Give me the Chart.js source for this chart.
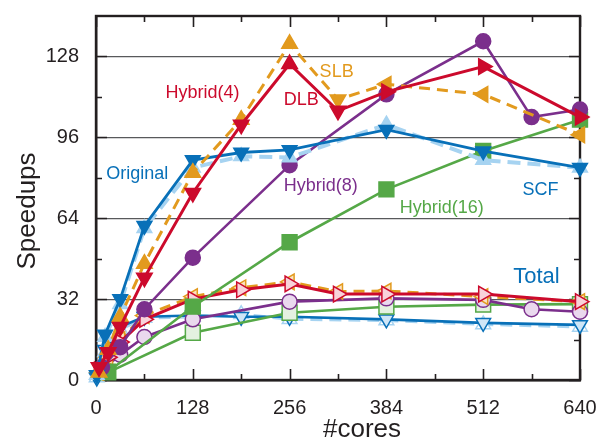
<!DOCTYPE html>
<html>
<head>
<meta charset="utf-8">
<script src="https://cdn.jsdelivr.net/npm/chart.js@4.4.1/dist/chart.umd.min.js"></script>
<style>
  html, body { margin: 0; padding: 0; background: #ffffff; }
  #wrap { width: 601px; height: 441px; position: relative; }
</style>
</head>
<body>
<div id="wrap"><canvas id="c" width="601" height="441"></canvas></div>
<script>
// ---- axis ticks ----
const xTicks = [0, 128, 256, 384, 512, 640];
const xMinorTicks = [64, 192, 320, 448, 576];
const yTicks = [0, 32, 64, 96, 128];
const yMinorTicks = [16, 48, 80, 112];

// ---- Original (flat MPI) ----
const origCores = [1, 12, 32, 64, 128, 192, 256, 384, 512, 640];
const origSCF = [2, 18, 32, 61, 87, 90, 91, 99, 90.5, 84];
const origSCFb = [2, 17, 30, 60, 84, 88.5, 88, 101, 87, 84];
const origTotal = [1, 12, 21, 25, 25.5, 25, 25, 24, 22.6, 21.8];
const origTotalb = [1, 11, 20, 24.5, 25, 26, 24, 23.5, 22, 21];

// ---- Hybrid(4): SLB and DLB ----
const h4Cores = [4, 16, 32, 64, 128, 192, 256, 320, 384, 512, 640];
const slbSCF = [3, 12, 25, 46, 82, 103, 133, 111, 117, 113, 97];
const dlbSCF = [5, 11, 21, 40.5, 74, 101, 125, 106.5, 114, 124, 104];
const slbTotal = [3, 9, 16, 25.5, 33, 36.5, 38.8, 35, 35.2, 33, 31];
const dlbTotal = [4, 9, 15, 24, 32, 35.7, 38, 34, 34, 34, 31];

// ---- Hybrid(8) ----
const h8Cores = [8, 32, 64, 128, 256, 384, 512, 576, 640];
const h8SCF = [5, 13, 28, 48.4, 85, 113, 134, 104, 107];
const h8Total = [4, 10, 17, 24, 31, 32.3, 31.7, 28, 27];

// ---- Hybrid(16) ----
const h16Cores = [16, 128, 256, 384, 512, 640];
const h16SCF = [3.3, 29, 54.5, 75.4, 90.6, 103];
const h16Total = [3, 18.7, 26.6, 29, 29.8, 30];

// ---- marker orientations (triangle rotation, degrees) ----
const slbRot = [0, 0, 0, 0, 0, 0, 0, 180, 270, 270, 270];
const dlbRot = [180, 180, 180, 180, 180, 180, 0, 180, 90, 90, 90];

// ---- in-plot text labels ----
const labelTexts = ['Original', 'Hybrid(4)', 'DLB', 'SLB', 'Hybrid(8)', 'Hybrid(16)', 'SCF', 'Total'];
const labelX = [13.4, 91.9, 248.4, 295.7, 248.4, 401.6, 564, 551.6];
const labelY = [81.5, 113.5, 110.6, 121.8, 76.6, 68, 75, 40.6];

const BLUE = '#0870b8', LBLUE = '#a6d3f1', ORANGE = '#e29a1e', RED = '#cc0a2c',
      PURPLE = '#7b2f8c', GREEN = '#55a847', INK = '#231f20';
const labelColors = [BLUE, RED, RED, ORANGE, PURPLE, GREEN, BLUE, BLUE];
const labelSizes = [18, 18, 18, 18, 18, 18, 18, 22];
const FONT = '"Liberation Sans", Arial, Helvetica, sans-serif';

function pts(xs, ys) { return xs.map((x, i) => ({ x: x, y: ys[i] })); }

function ds(o) {
  return Object.assign({
    type: 'line', fill: false, tension: 0, clip: false, borderWidth: 2.6,
    pointBorderWidth: 1.5, pointHoverRadius: 0
  }, o);
}

const datasets = [
  // Total (bottom group)
  ds({ label: 'Original Total b', data: pts(origCores, origTotalb), borderColor: LBLUE, borderDash: [12, 7], borderWidth: 3,
       pointStyle: 'triangle', pointRadius: 8.5, pointBackgroundColor: '#ffffff', pointBorderColor: LBLUE, order: 20 }),
  ds({ label: 'Original Total', data: pts(origCores, origTotal), borderColor: BLUE,
       pointStyle: 'triangle', pointRotation: 180, pointRadius: 8.5, pointBackgroundColor: '#cfe6f7', pointBorderColor: BLUE, order: 19 }),
  ds({ label: 'Hybrid(16) Total', data: pts(h16Cores, h16Total), borderColor: GREEN,
       pointStyle: 'rect', pointRadius: 10.5, pointBackgroundColor: '#e4f1e0', pointBorderColor: GREEN, order: 18 }),
  ds({ label: 'Hybrid(8) Total', data: pts(h8Cores, h8Total), borderColor: PURPLE,
       pointStyle: 'circle', pointRadius: 7.5, pointBackgroundColor: '#ead9ee', pointBorderColor: PURPLE, order: 17 }),
  ds({ label: 'SLB Total', data: pts(h4Cores, slbTotal), borderColor: ORANGE, borderDash: [11, 7], borderWidth: 3,
       pointStyle: 'triangle', pointRotation: 270, pointRadius: 9, pointBackgroundColor: '#fbe3c0', pointBorderColor: ORANGE, order: 16 }),
  ds({ label: 'DLB Total', data: pts(h4Cores, dlbTotal), borderColor: RED, borderWidth: 3,
       pointStyle: 'triangle', pointRotation: 90, pointRadius: 9, pointBackgroundColor: '#f8d2da', pointBorderColor: RED, order: 15 }),
  // SCF (upper group)
  ds({ label: 'Hybrid(16) SCF', data: pts(h16Cores, h16SCF), borderColor: GREEN,
       pointStyle: 'rect', pointRadius: 10.5, pointBackgroundColor: GREEN, pointBorderColor: GREEN, order: 9 }),
  ds({ label: 'Hybrid(8) SCF', data: pts(h8Cores, h8SCF), borderColor: PURPLE,
       pointStyle: 'circle', pointRadius: 7.5, pointBackgroundColor: PURPLE, pointBorderColor: PURPLE, order: 8 }),
  ds({ label: 'Original SCF b', data: pts(origCores, origSCFb), borderColor: LBLUE, borderDash: [13, 7], borderWidth: 4,
       pointStyle: 'triangle', pointRadius: 8.5, pointBackgroundColor: LBLUE, pointBorderColor: LBLUE, order: 7 }),
  ds({ label: 'Original SCF', data: pts(origCores, origSCF), borderColor: BLUE, borderWidth: 2.8,
       pointStyle: 'triangle', pointRotation: 180, pointRadius: 8.5, pointBackgroundColor: BLUE, pointBorderColor: BLUE, order: 6 }),
  ds({ label: 'SLB SCF', data: pts(h4Cores, slbSCF), borderColor: ORANGE, borderDash: [11, 7], borderWidth: 3,
       pointStyle: 'triangle', pointRotation: slbRot, pointRadius: 9, pointBackgroundColor: ORANGE, pointBorderColor: ORANGE, order: 5 }),
  ds({ label: 'DLB SCF', data: pts(h4Cores, dlbSCF), borderColor: RED, borderWidth: 3,
       pointStyle: 'triangle', pointRotation: dlbRot, pointRadius: 9, pointBackgroundColor: RED, pointBorderColor: RED, order: 4 })
];

const decor = {
  id: 'decor',
  beforeDatasetsDraw(chart) {
    const { ctx, chartArea: a, scales: { x, y } } = chart;
    ctx.save();
    ctx.strokeStyle = INK;
    ctx.lineWidth = 1.6;
    ctx.beginPath();
    xTicks.forEach(v => {
      const px = Math.round(x.getPixelForValue(v)) + 0.5;
      ctx.moveTo(px, a.bottom); ctx.lineTo(px, a.bottom - 11);
      ctx.moveTo(px, a.top); ctx.lineTo(px, a.top + 11);
    });
    xMinorTicks.forEach(v => {
      const px = Math.round(x.getPixelForValue(v)) + 0.5;
      ctx.moveTo(px, a.bottom); ctx.lineTo(px, a.bottom - 6);
      ctx.moveTo(px, a.top); ctx.lineTo(px, a.top + 6);
    });
    yTicks.forEach(v => {
      const py = Math.round(y.getPixelForValue(v)) + 0.5;
      ctx.moveTo(a.left, py); ctx.lineTo(a.left + 11, py);
      ctx.moveTo(a.right, py); ctx.lineTo(a.right - 11, py);
    });
    yMinorTicks.forEach(v => {
      const py = Math.round(y.getPixelForValue(v)) + 0.5;
      ctx.moveTo(a.left, py); ctx.lineTo(a.left + 6, py);
      ctx.moveTo(a.right, py); ctx.lineTo(a.right - 6, py);
    });
    ctx.stroke();
    ctx.lineWidth = 2.4;
    ctx.strokeRect(a.left, a.top, a.right - a.left, a.bottom - a.top);
    ctx.fillStyle = INK;
    ctx.font = '26px ' + FONT;
    ctx.textAlign = 'center';
    ctx.textBaseline = 'middle';
    ctx.fillText('#cores', 362, 430);
    ctx.translate(28, 211);
    ctx.rotate(-Math.PI / 2);
    ctx.fillText('Speedups', 0, 0);
    ctx.restore();
  },
  afterDatasetsDraw(chart) {
    const { ctx, scales: { x, y } } = chart;
    ctx.save();
    ctx.textAlign = 'left';
    ctx.textBaseline = 'middle';
    labelTexts.forEach((t, i) => {
      ctx.font = labelSizes[i] + 'px ' + FONT;
      ctx.fillStyle = labelColors[i];
      ctx.fillText(t, x.getPixelForValue(labelX[i]), y.getPixelForValue(labelY[i]));
    });
    ctx.restore();
  }
};

new Chart(document.getElementById('c'), {
  type: 'line',
  data: { datasets: datasets },
  plugins: [decor],
  options: {
    responsive: false,
    animation: false,
    events: [],
    layout: { padding: { top: 16, right: 21, left: 0, bottom: 0 } },
    plugins: { legend: { display: false }, tooltip: { enabled: false } },
    scales: {
      x: {
        type: 'linear', min: 0, max: 640,
        afterBuildTicks: s => { s.ticks = xTicks.map(v => ({ value: v })); },
        afterFit: s => { s.height = 61; s.paddingLeft = 0; s.paddingRight = 0; },
        grid: { display: false, drawTicks: false },
        border: { display: true, color: INK, width: 2.4 },
        ticks: { color: INK, font: { size: 20, family: FONT }, padding: 16, maxRotation: 0, autoSkip: false }
      },
      y: {
        type: 'linear', min: 0, max: 144,
        afterBuildTicks: s => { s.ticks = yTicks.map(v => ({ value: v })); },
        afterFit: s => { s.width = 96; s.paddingTop = 0; s.paddingBottom = 0; },
        grid: {
          drawTicks: false, lineWidth: 1.2,
          color: c => (c.tick && c.tick.value === 0) ? 'rgba(0,0,0,0)' : '#58595b'
        },
        border: { display: true, color: INK, width: 2.4 },
        ticks: { color: INK, font: { size: 20, family: FONT }, padding: 17, autoSkip: false }
      }
    }
  }
});
</script>
</body>
</html>
